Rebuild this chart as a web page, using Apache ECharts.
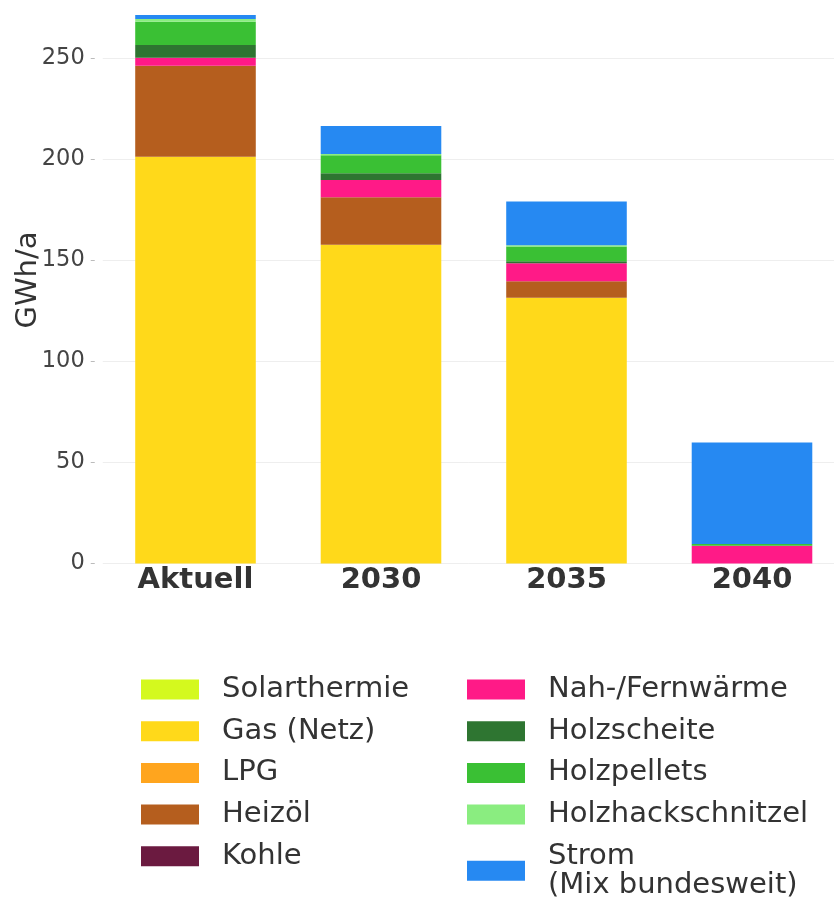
<!DOCTYPE html>
<html>
<head>
<meta charset="utf-8">
<script src="https://cdn.jsdelivr.net/npm/echarts@6/dist/echarts.min.js"></script>
<style>html,body{margin:0;padding:0;background:#fff}#c{width:834px;height:897px}</style>
</head>
<body>
<div id="c"></div>
<script>
const categories = ['Aktuell', '2030', '2035', '2040'];
const yTicks = [0, 50, 100, 150, 200, 250];
const seriesNames = ['Solarthermie', 'Gas (Netz)', 'LPG', 'Heizöl', 'Kohle', 'Nah-/Fernwärme', 'Holzscheite', 'Holzpellets', 'Holzhackschnitzel', 'Strom\n(Mix bundesweit)'];
const solarthermie = [0, 0, 0, 0];
const gasNetz = [201.4, 157.8, 131.6, 0];
const lpg = [0, 0, 0, 0];
const heizoel = [45.0, 23.5, 8.1, 0];
const kohle = [0, 0, 0, 0];
const nahFernwaerme = [4.0, 8.6, 8.9, 8.8];
const holzscheite = [6.3, 3.3, 1.0, 0];
const holzpellets = [11.5, 8.9, 7.3, 0.8];
const holzhackschnitzel = [1.3, 0.6, 0.7, 0];
const strom = [2.0, 13.9, 21.6, 50.3];
const colors = ['#D4F91E', '#FFD91A', '#FFA51E', '#B55E1E', '#6B1A40', '#FF1A87', '#2E7531', '#3AC034', '#8AED80', '#2689F2'];

const values = [solarthermie, gasNetz, lpg, heizoel, kohle, nahFernwaerme, holzscheite, holzpellets, holzhackschnitzel, strom];

const chart = echarts.init(document.getElementById('c'), null, {renderer: 'canvas'});
const series = seriesNames.map((n, i) => ({
  name: n,
  type: 'bar',
  stack: 'total',
  data: values[i],
  barWidth: '65%',
  clip: false,
  itemStyle: {color: colors[i]},
  emphasis: {disabled: true}
}));
const legendText = {fontFamily: 'DejaVu Sans', fontSize: 29, color: '#333', lineHeight: 29, padding: [0, 0, 0, 18]};
chart.setOption({
  animation: false,
  color: colors,
  grid: {left: 102.75, width: 742, top: 58.5, height: 505, outerBoundsMode: 'none', containLabel: false},
  xAxis: {
    type: 'category',
    data: categories,
    axisLine: {show: false},
    axisTick: {show: false},
    axisLabel: {fontFamily: 'DejaVu Sans', fontSize: 29, fontWeight: 'bold', color: '#333', margin: 2}
  },
  yAxis: {
    type: 'value',
    min: yTicks[0],
    max: yTicks[yTicks.length - 1],
    interval: 50,
    name: 'GWh/a',
    nameLocation: 'middle',
    nameGap: 60,
    nameMoveOverlap: false,
    nameTextStyle: {fontFamily: 'DejaVu Sans', fontSize: 29, color: '#333', padding: [0, 0, 0, 62]},
    axisLine: {show: false},
    axisTick: {show: true, length: 12, lineStyle: {color: '#bbb', type: [4, 8], dashOffset: 4}},
    axisLabel: {fontFamily: 'DejaVu Sans', fontSize: 22.5, color: '#444', margin: 18},
    splitLine: {lineStyle: {color: '#eee', width: 1}}
  },
  legend: [
    {
      data: seriesNames.slice(0, 5),
      orient: 'vertical',
      left: 136, top: 670, height: 260,
      itemWidth: 58, itemHeight: 20, itemGap: 12.7,
      textStyle: legendText,
      icon: 'rect',
      selectedMode: false
    },
    {
      data: seriesNames.slice(5),
      orient: 'vertical',
      left: 462, top: 670, height: 260,
      itemWidth: 58, itemHeight: 20, itemGap: 12.7,
      textStyle: legendText,
      icon: 'rect',
      selectedMode: false
    }
  ],
  series: series
});
</script>
</body>
</html>
